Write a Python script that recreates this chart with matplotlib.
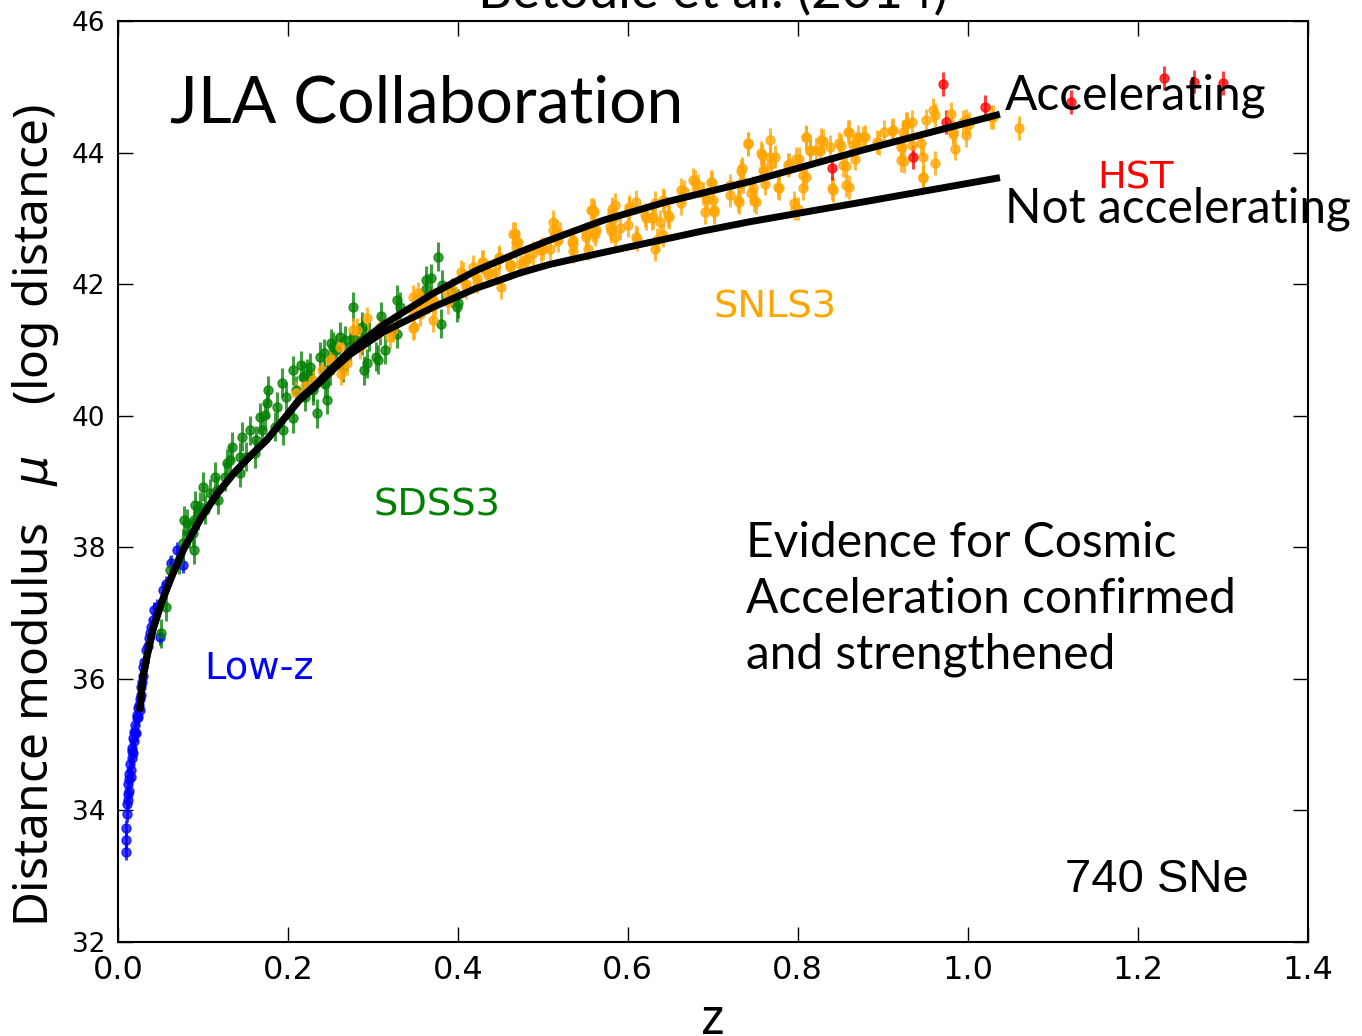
import matplotlib
matplotlib.use("Agg")
import matplotlib.pyplot as plt

# model curves
acc_z = [0.026, 0.029, 0.035, 0.041, 0.051, 0.063, 0.078, 0.097, 0.116, 0.136, 0.155, 0.175,
         0.194, 0.214, 0.234, 0.253, 0.273, 0.312, 0.371, 0.422, 0.473, 0.508, 0.571, 0.645,
         0.744, 0.877, 1.034]
acc_mu = [35.56, 36.0, 36.39, 36.74, 37.15, 37.55, 37.99, 38.43, 38.80, 39.12, 39.38, 39.63,
          39.93, 40.26, 40.49, 40.74, 40.99, 41.38, 41.86, 42.21, 42.49, 42.67, 42.97, 43.25,
          43.56, 44.04, 44.57]
non_z = [0.026, 0.029, 0.035, 0.041, 0.051, 0.063, 0.078, 0.097, 0.116, 0.136, 0.155, 0.175,
         0.194, 0.214, 0.234, 0.253, 0.273, 0.312, 0.371, 0.422, 0.449, 0.473, 0.508, 0.567,
         0.610, 0.685, 0.744, 0.877, 1.034]
non_mu = [35.56, 36.0, 36.39, 36.74, 37.15, 37.55, 37.99, 38.43, 38.80, 39.12, 39.38, 39.63,
          39.93, 40.24, 40.46, 40.70, 40.93, 41.27, 41.65, 41.94, 42.06, 42.17, 42.30, 42.47,
          42.59, 42.80, 42.95, 43.25, 43.61]

# low-z sample
lowz_z = [0.0098, 0.0098, 0.0100, 0.0105, 0.0110, 0.0115, 0.0118, 0.0120, 0.0125, 0.0130, 0.0135,
          0.0140, 0.0150, 0.0157, 0.0160, 0.0165, 0.0170, 0.0177, 0.0180, 0.0185, 0.0190, 0.0200,
          0.0205, 0.0216, 0.0220, 0.0230, 0.0235, 0.0240, 0.0245, 0.0255, 0.0260, 0.0270, 0.0275,
          0.0280, 0.0294, 0.0300, 0.0310, 0.0333, 0.0350, 0.0360, 0.0375, 0.0390, 0.0410, 0.0430,
          0.0460, 0.0490, 0.0530, 0.0560, 0.0630, 0.0690, 0.0765]
lowz_mu = [33.37, 33.73, 33.55, 33.95, 34.10, 34.25, 34.16, 34.40, 34.30, 34.55, 34.48,
           34.70, 34.62, 34.51, 34.80, 34.90, 34.95, 34.87, 35.10, 35.05, 35.20, 35.17,
           35.30, 35.17, 35.45, 35.40, 35.42, 35.55, 35.60, 35.52, 35.70, 35.75, 35.88,
           35.95, 36.18, 36.05, 36.25, 36.44, 36.50, 36.62, 36.70, 36.79, 36.90, 37.05,
           37.10, 36.64, 37.35, 37.45, 37.76, 37.96, 37.73]

# SDSS
sdss_z = [0.051, 0.057, 0.061, 0.072, 0.077, 0.078, 0.081, 0.084, 0.088, 0.090, 0.090, 0.091,
          0.094, 0.096, 0.100, 0.102, 0.108, 0.114, 0.116, 0.118, 0.126, 0.128, 0.132, 0.134,
          0.144, 0.144, 0.146, 0.151, 0.155, 0.161, 0.163, 0.167, 0.169, 0.173, 0.175, 0.177,
          0.185, 0.187, 0.193, 0.194, 0.198, 0.206, 0.206, 0.210, 0.216, 0.218, 0.220, 0.222,
          0.226, 0.230, 0.230, 0.234, 0.238, 0.242, 0.242, 0.244, 0.246, 0.247, 0.249, 0.251,
          0.253, 0.257, 0.261, 0.265, 0.267, 0.273, 0.277, 0.277, 0.287, 0.287, 0.287, 0.289,
          0.293, 0.296, 0.304, 0.306, 0.308, 0.310, 0.314, 0.328, 0.328, 0.332, 0.363, 0.363,
          0.369, 0.377, 0.380, 0.381, 0.393, 0.399, 0.400]
sdss_mu = [36.69, 37.10, 37.65, 37.81, 38.06, 38.41, 38.37, 38.21, 38.22, 38.41, 37.96, 38.64,
           38.49, 38.62, 38.92, 38.57, 38.82, 39.07, 38.87, 38.72, 39.07, 39.28, 39.33, 39.53,
           39.13, 39.38, 39.68, 39.38, 39.78, 39.43, 39.63, 39.98, 39.78, 40.01, 40.19, 40.39,
           39.83, 40.14, 40.50, 39.78, 40.29, 40.69, 39.96, 40.39, 40.77, 40.59, 40.29, 40.64,
           40.74, 40.44, 40.39, 40.04, 40.90, 40.64, 40.95, 40.49, 40.24, 40.69, 40.69, 41.10,
           41.05, 41.00, 41.20, 40.74, 41.15, 41.05, 41.66, 41.18, 41.35, 41.15, 41.30, 40.69,
           40.80, 41.20, 40.90, 40.85, 41.30, 41.51, 41.00, 41.76, 41.25, 41.66, 42.06, 41.93,
           42.09, 42.42, 41.40, 41.99, 41.88, 41.65, 41.71]

# SNLS
snls_z = [0.210, 0.220, 0.230, 0.240, 0.250, 0.253, 0.261, 0.263, 0.265, 0.269, 0.277, 0.281,
          0.285, 0.293, 0.308, 0.320, 0.324, 0.347, 0.347, 0.347, 0.349, 0.351, 0.353, 0.355,
          0.355, 0.359, 0.365, 0.371, 0.371, 0.373, 0.387, 0.389, 0.394, 0.404, 0.406, 0.410,
          0.410, 0.418, 0.422, 0.422, 0.428, 0.430, 0.436, 0.436, 0.444, 0.449, 0.449, 0.451,
          0.461, 0.461, 0.461, 0.465, 0.467, 0.469, 0.469, 0.471, 0.473, 0.479, 0.481, 0.489,
          0.498, 0.500, 0.508, 0.512, 0.512, 0.514, 0.517, 0.518, 0.520, 0.534, 0.535, 0.536,
          0.536, 0.551, 0.551, 0.553, 0.557, 0.559, 0.559, 0.560, 0.562, 0.563, 0.579, 0.580,
          0.581, 0.582, 0.584, 0.585, 0.585, 0.591, 0.600, 0.602, 0.602, 0.610, 0.610, 0.611,
          0.620, 0.622, 0.629, 0.630, 0.632, 0.632, 0.634, 0.638, 0.641, 0.642, 0.643, 0.647,
          0.648, 0.663, 0.663, 0.666, 0.677, 0.679, 0.683, 0.689, 0.691, 0.693, 0.698, 0.699,
          0.700, 0.702, 0.702, 0.720, 0.720, 0.730, 0.731, 0.732, 0.733, 0.734, 0.736, 0.742,
          0.742, 0.745, 0.747, 0.749, 0.751, 0.757, 0.758, 0.759, 0.760, 0.761, 0.767, 0.767,
          0.769, 0.773, 0.777, 0.778, 0.789, 0.790, 0.796, 0.797, 0.798, 0.800, 0.801, 0.806,
          0.806, 0.810, 0.810, 0.810, 0.814, 0.815, 0.822, 0.826, 0.828, 0.830, 0.838, 0.840,
          0.842, 0.849, 0.851, 0.853, 0.857, 0.857, 0.859, 0.860, 0.860, 0.865, 0.867, 0.869,
          0.871, 0.877, 0.879, 0.893, 0.896, 0.902, 0.911, 0.912, 0.922, 0.922, 0.923, 0.924,
          0.925, 0.928, 0.929, 0.934, 0.934, 0.945, 0.947, 0.947, 0.948, 0.951, 0.959, 0.961,
          0.961, 0.981, 0.983, 0.983, 0.985, 0.994, 0.998, 0.998, 1.002, 1.028, 1.030, 1.060]
snls_mu = [40.35, 40.45, 40.55, 40.70, 40.85, 40.80, 41.05, 40.64, 40.74, 40.80, 41.30, 41.30,
           41.05, 41.48, 41.35, 41.20, 41.30, 41.81, 41.53, 41.33, 41.35, 41.66, 41.86, 41.55,
           41.76, 41.73, 41.73, 41.76, 41.45, 41.71, 41.86, 41.73, 41.91, 42.19, 42.16, 41.96,
           42.01, 42.26, 42.04, 42.09, 42.34, 42.34, 42.14, 42.19, 42.19, 42.42, 42.39, 41.96,
           42.26, 42.29, 42.31, 42.77, 42.77, 42.57, 42.64, 42.64, 42.31, 42.37, 42.39, 42.47,
           42.52, 42.54, 42.54, 42.95, 42.82, 42.75, 42.79, 42.67, 42.77, 42.64, 42.61, 42.50,
           42.67, 42.77, 42.72, 42.54, 43.13, 43.13, 42.82, 43.10, 42.76, 42.82, 42.87, 42.81,
           43.08, 43.15, 43.00, 43.20, 42.72, 42.85, 42.90, 43.15, 43.18, 43.25, 42.72, 42.69,
           43.05, 43.00, 43.00, 43.02, 43.23, 42.53, 42.67, 42.95, 42.74, 43.28, 43.25, 43.05,
           43.02, 43.43, 43.23, 43.41, 43.58, 43.56, 43.50, 43.38, 43.10, 43.30, 43.56, 43.54,
           43.28, 43.13, 43.10, 43.50, 43.36, 43.28, 43.25, 43.53, 43.72, 43.76, 43.56, 44.14,
           44.13, 43.38, 43.46, 43.28, 43.25, 43.99, 43.97, 43.73, 43.72, 43.53, 44.19, 43.94,
           43.82, 43.94, 43.48, 43.46, 43.81, 43.82, 43.23, 43.15, 43.91, 43.15, 43.90, 43.66,
           43.46, 44.24, 43.63, 44.23, 44.04, 44.03, 44.04, 44.03, 44.19, 44.18, 44.09, 43.46,
           43.43, 44.14, 44.10, 43.81, 43.79, 43.50, 44.32, 44.31, 43.48, 44.11, 43.91, 44.13,
           44.24, 44.23, 44.24, 44.16, 44.15, 44.32, 44.33, 44.34, 44.09, 43.89, 44.08, 44.32,
           43.87, 44.44, 44.44, 44.47, 44.11, 44.15, 43.94, 43.63, 43.61, 44.49, 44.65, 44.57,
           43.84, 44.59, 44.29, 44.32, 44.06, 44.47, 44.27, 44.49, 44.44, 44.54, 44.54, 44.37]

# HST
hst_z = [0.840, 0.936, 0.971, 0.974, 1.021, 1.122, 1.231, 1.266, 1.300]
hst_mu = [43.77, 43.93, 45.04, 44.46, 44.70, 44.77, 45.13, 45.08, 45.06]

samples = [
    (lowz_z, lowz_mu, 0.12, "blue"),
    (sdss_z, sdss_mu, 0.22, "green"),
    (snls_z, snls_mu, 0.18, "orange"),
    (hst_z, hst_mu, 0.18, "red"),
]

fig = plt.figure(figsize=(13.62, 10.36), dpi=100)
ax = fig.add_axes([0.0866, 0.0907, 0.8734, 0.889])

for zz, mm, err, col in samples:
    ax.errorbar(zz, mm, yerr=err, fmt="o", color=col, ecolor=col, mec=col,
                ms=6.5, elinewidth=2.2, capsize=0, alpha=0.75, zorder=2)

ax.plot(acc_z, acc_mu, color="black", lw=5, zorder=4, solid_joinstyle="round")
ax.plot(non_z, non_mu, color="black", lw=5, zorder=4, solid_joinstyle="round")

ax.set_xlim(0, 1.4)
ax.set_ylim(32, 46)
ax.set_xticks([0.0, 0.2, 0.4, 0.6, 0.8, 1.0, 1.2, 1.4])
ax.set_yticks([32, 34, 36, 38, 40, 42, 44, 46])
ax.tick_params(direction="in", length=11, width=1, top=True, right=True)
ax.tick_params(axis="y", labelsize=19, pad=9)
ax.tick_params(axis="x", labelsize=23, pad=9)
for sp in ax.spines.values():
    sp.set_linewidth(1.5)

fig.text(0.026, 0.502, r"Distance modulus   $\mu$    (log distance)", rotation=90,
         ha="center", va="center", fontsize=34.5, family="Noto Sans")
fig.text(0.5235, 0.014, "z", ha="center", va="center", fontsize=36, family="Noto Sans")
fig.text(0.5235, 0.9923, "Betoule et al. (2014)", ha="center", va="baseline",
         fontsize=38, family="Lato")

ax.text(0.061, 44.45, "JLA Collaboration", fontsize=47.5, family="Lato")
ax.text(1.044, 44.65, "Accelerating", fontsize=34.5, family="Lato")
ax.text(1.044, 42.94, "Not accelerating", fontsize=34.5, family="Lato")
ax.text(0.739, 36.16, "Evidence for Cosmic\nAcceleration confirmed\nand strengthened",
        fontsize=34.5, family="Lato", va="baseline", linespacing=1.32)
ax.text(1.114, 32.76, "740 SNe", fontsize=34, family="Liberation Sans")

ax.text(0.101, 36.0, "Low-z", color="blue", fontsize=27.6)
ax.text(0.301, 38.49, "SDSS3", color="green", fontsize=27.6)
ax.text(0.701, 41.50, "SNLS3", color="orange", fontsize=27.6)
ax.text(1.152, 43.46, "HST", color="red", fontsize=27.6)

fig.savefig("out.png", dpi=100)
